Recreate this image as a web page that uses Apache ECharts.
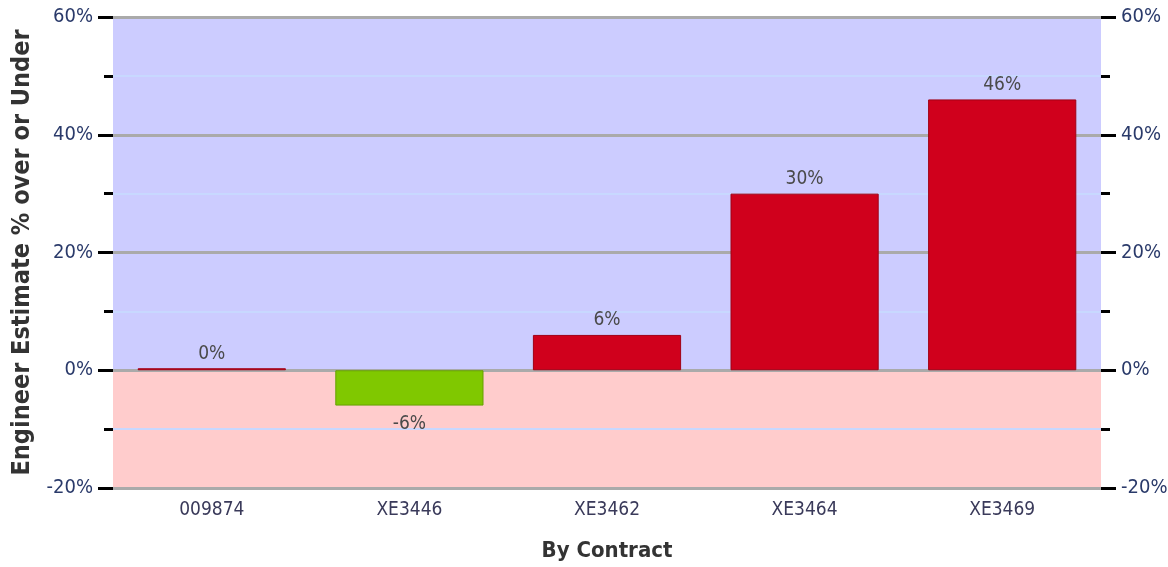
<!DOCTYPE html>
<html><head><meta charset="utf-8">
<script src="https://cdn.jsdelivr.net/npm/echarts@6/dist/echarts.min.js"></script>
<style>html,body{margin:0;padding:0;background:#fff}#c{width:1168px;height:567px}</style>
</head><body><div id="c"></div>
<script>
const categories = ['009874', 'XE3446', 'XE3462', 'XE3464', 'XE3469'];
const values = [0, -6, 6, 30, 46];
const yTicks = { min: -20, max: 60, interval: 20 };
const FONT = '"DejaVu Sans Condensed", "Liberation Sans Narrow", "Liberation Sans", sans-serif';

const chart = echarts.init(document.getElementById('c'));
function yAxis(pos) {
  return {
    type: 'value', position: pos, min: yTicks.min, max: yTicks.max, interval: yTicks.interval,
    axisLine: { show: false },
    axisTick: { show: true, length: 15, lineStyle: { color: '#000', width: 3 } },
    minorTick: { show: true, splitNumber: 2, length: 9, lineStyle: { color: '#000', width: 3 } },
    splitLine: { show: pos === 'left', lineStyle: { color: '#aaaaaa', width: 3 } },
    minorSplitLine: { show: pos === 'left', lineStyle: { color: '#c8d8ff', width: 2 } },
    axisLabel: { formatter: '{value}%', color: '#2a3a6a', fontFamily: FONT, fontSize: 20, margin: 20 },
    name: pos === 'left' ? 'Engineer Estimate % over or Under' : '',
    nameLocation: 'middle', nameGap: 78,
    nameTextStyle: { fontFamily: FONT, fontWeight: 'bold', fontSize: 25, color: '#333' }
  };
}
chart.setOption({
  animation: false,
  grid: { left: 113, right: 67, top: 17, bottom: 79, outerBoundsMode: 'none' },
  xAxis: {
    type: 'category', data: categories,
    axisLine: { show: false }, axisTick: { show: false },
    axisLabel: { color: '#3a3a5a', fontFamily: FONT, fontSize: 19, margin: 13 },
    name: 'By Contract', nameLocation: 'middle', nameGap: 52,
    nameTextStyle: { fontFamily: FONT, fontWeight: 'bold', fontSize: 22, color: '#333' }
  },
  yAxis: [yAxis('left'), yAxis('right')],
  series: [{
    type: 'bar', data: values.map(v => ({
      value: v,
      itemStyle: v < 0 ? { color: '#80c800', borderColor: '#66a000', borderWidth: 1 }
                       : { color: '#d0001c', borderColor: '#a00015', borderWidth: 1 },
      label: v < 0 ? { position: 'bottom', distance: 9 } : { position: 'top' }
    })),
    barWidth: '75%', barMinHeight: 2,
    label: { show: true, formatter: p => p.value + '%', color: '#4a4a4a', fontFamily: FONT, fontSize: 19, distance: 5 },
    markArea: {
      z: -1, silent: true,
      data: [
        [{ yAxis: 0, itemStyle: { color: '#ccccff' } }, { yAxis: 60 }],
        [{ yAxis: -20, itemStyle: { color: '#ffcccc' } }, { yAxis: 0 }]
      ]
    }
  }]
});
</script></body></html>
